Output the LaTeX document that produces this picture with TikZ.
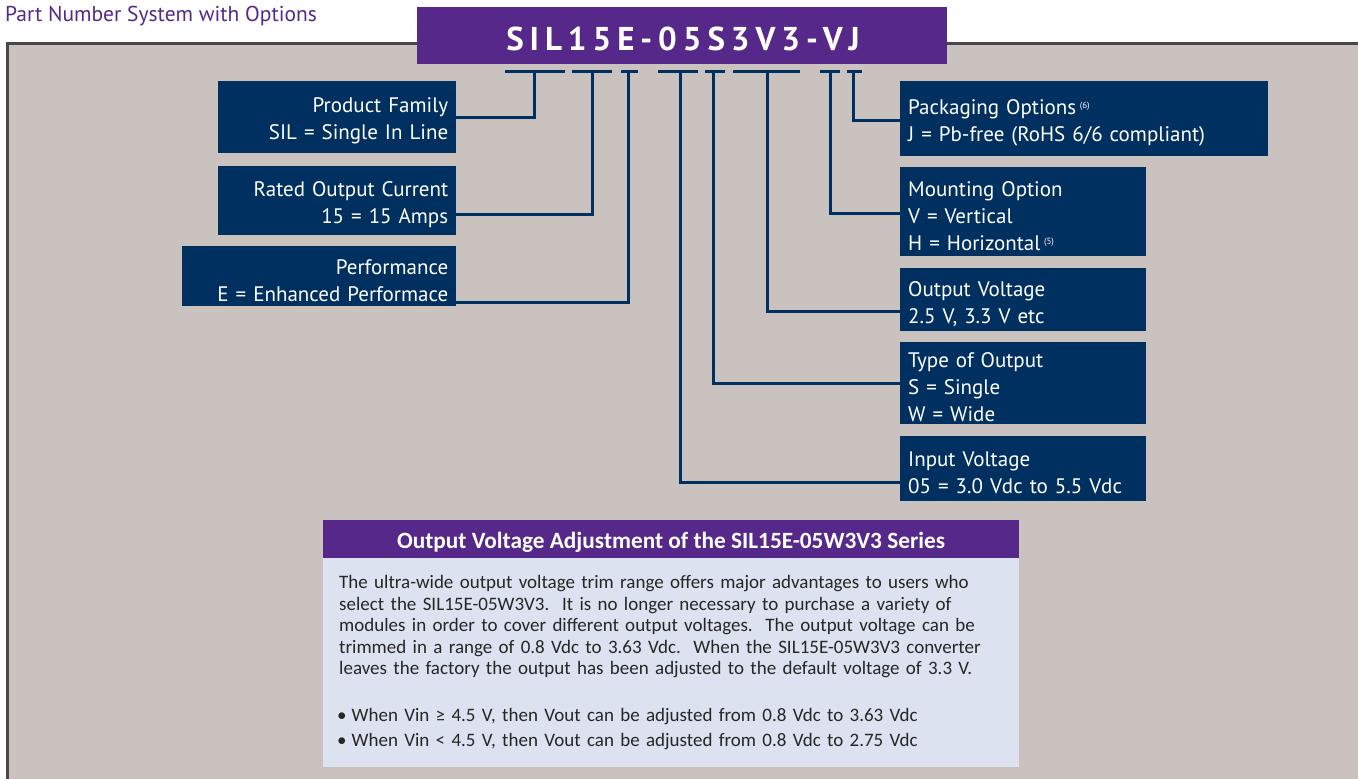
\documentclass[tikz,border=0pt]{standalone}
\usepackage{fontspec}
\setmainfont{PT Sans}
\newfontfamily\notefont{Carlito}
\usepackage{xcolor}
\usetikzlibrary{calc, positioning}

\definecolor{panelgray}{HTML}{C9C2BF}
\definecolor{framegray}{HTML}{48484A}
\definecolor{partpurple}{HTML}{55288A}
\definecolor{codeblue}{HTML}{00305F}
\definecolor{notebg}{HTML}{DCE2EF}

\tikzset{
  optbox/.style={fill=codeblue, text=white, inner xsep=8pt, inner ysep=0pt,
                 font=\fontsize{21}{27}\selectfont, anchor=north west,
                 execute at begin node=\rule{0pt}{23pt}},
  leftbox/.style={optbox, align=right},
  rightbox/.style={optbox, align=left},
  conn/.style={draw=codeblue, line width=3pt},
}
\newcommand{\refmark}[1]{\,{\fontsize{9}{9}\selectfont\raisebox{6pt}{(#1)}}}

\begin{document}
\begin{tikzpicture}[x=1pt, y=-1pt]
                        \useasboundingbox (0,0) rectangle (1358,779);
                        \node[anchor=base west, inner sep=0pt, text=partpurple,
                              font=\fontsize{21.5}{21.5}\selectfont] (title) at (5,21) {Part Number System with Options};
                        \draw[fill=panelgray, draw=framegray, line width=3pt] (7,43) rectangle (1380,800);
                        % part number
                        \node[fill=partpurple, minimum width=530pt, minimum height=57pt] (pnbox) at (682,35.5) {};
                        \node[text=white, inner sep=0pt, anchor=base,
                              font=\fontsize{33}{33}\selectfont\bfseries\addfontfeature{LetterSpace=18}] (pn) at (683,50) {SIL15E-05S3V3-VJ};
                        % ticks under the code
                        \foreach \a/\b/\m/\n in {505/565/534/1, 572/612/592/2, 621/638/628/3, 658/698/680/4,
                                                  705/725/713/5, 733/800/767/6, 820/840/830/7, 847/862/853/8} {
                            \draw[conn] (\a,71) -- (\b,71);
                            \coordinate (t\n) at (\m,71);
                        }
                        % option boxes, left
                        \node[leftbox, text width=222pt, minimum height=72pt] (family) at (218,81)
                            {Product Family\\SIL = Single In Line};
                        \node[leftbox, text width=222pt, minimum height=69pt] (current) at (218,166)
                            {Rated Output Current\\15 = 15 Amps};
                        \node[leftbox, text width=258pt, minimum height=60pt] (perf) at (182,246)
                            {Performance\\E = Enhanced Performace};
                        % option boxes, right
                        \node[rightbox, text width=352pt, minimum height=75pt] (packing) at (900,81)
                            {Packaging Options\refmark{6}\\J = Pb-free (RoHS 6/6 compliant)};
                        \node[rightbox, text width=230pt, minimum height=89pt] (mount) at (900,167)
                            {Mounting Option\\V = Vertical\\H = Horizontal\refmark{5}};
                        \node[rightbox, text width=230pt, minimum height=63pt] (vout) at (900,268)
                            {Output Voltage\\2.5 V, 3.3 V etc};
                        \node[rightbox, text width=230pt, minimum height=82pt] (otype) at (900,342)
                            {Type of Output\\S = Single\\W = Wide};
                        \node[rightbox, text width=230pt, minimum height=65pt] (vin) at (900,436)
                            {Input Voltage\\05 = 3.0 Vdc to 5.5 Vdc};
                        % connectors
                        \draw[conn] (t1) |- (family.east);
                        \draw[conn] (t2) |- ($(current.south east)+(0,-21)$);
                        \draw[conn] (t3) |- ($(perf.south east)+(0,-4)$);
                        \draw[conn] (t4) |- ($(vin.south west)+(0,-19)$);
                        \draw[conn] (t5) |- (otype.west);
                        \draw[conn] (t6) |- ($(vout.south west)+(0,-20)$);
                        \draw[conn] (t7) |- ($(mount.west)+(0,1.5)$);
                        \draw[conn] (t8) |- ($(packing.west)+(0,1.5)$);
                        % note on the W3V3 series
                        \node[fill=partpurple, minimum width=696pt, minimum height=38pt, anchor=north west,
                              inner sep=0pt] (notehead) at (323,520) {};
                        \node[text=white, anchor=base, inner sep=0pt,
                              font=\notefont\fontsize{23.3}{23.3}\selectfont\bfseries] (notetitle) at (671,548)
                            {Output Voltage Adjustment of the SIL15E-05W3V3 Series};
                        \node[fill=notebg, anchor=north west, minimum height=209pt, text width=664pt,
                              inner xsep=16pt, inner ysep=0pt, align=left, text=black!85,
                              font=\notefont\fontsize{19}{21.5}\selectfont] (notebody) at (323,558)
                            {The ultra-wide output voltage trim range offers major advantages to users who\\
                             select the SIL15E-05W3V3.\ \ It is no longer necessary to purchase a variety of\\
                             modules in order to cover different output voltages.\ \ The output voltage can be\\
                             trimmed in a range of 0.8 Vdc to 3.63 Vdc.\ \ When the SIL15E-05W3V3 converter\\
                             leaves the factory the output has been adjusted to the default voltage of 3.3 V.\\[25pt]
                             \hspace*{-2pt}\textbullet\hspace{5pt}When Vin ≥ 4.5 V, then Vout can be adjusted from 0.8 Vdc to 3.63 Vdc\\[3.5pt]
                             \hspace*{-2pt}\textbullet\hspace{5pt}When Vin < 4.5 V, then Vout can be adjusted from 0.8 Vdc to 2.75 Vdc};
                    \end{tikzpicture}
\end{document}
